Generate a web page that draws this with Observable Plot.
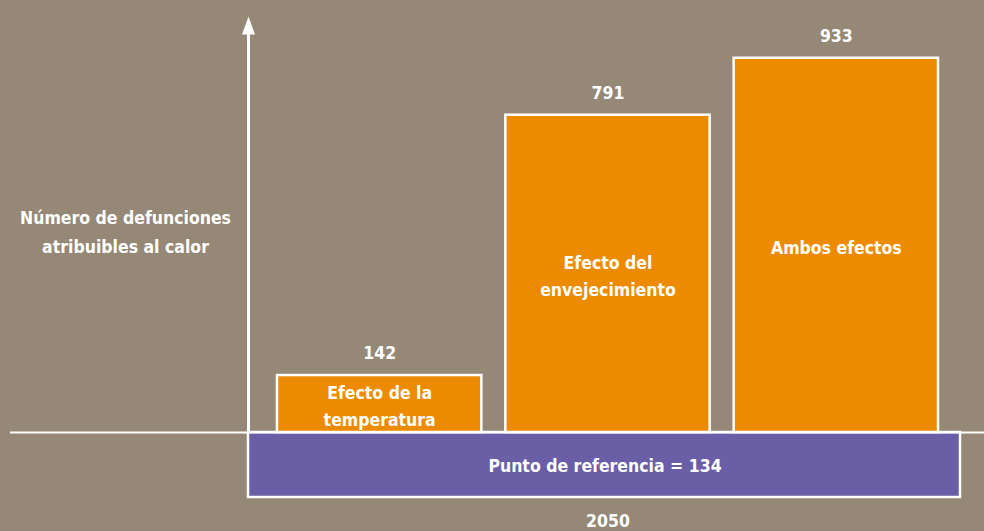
<!DOCTYPE html>
<html>
<head>
<meta charset="utf-8">
<script src="https://cdn.jsdelivr.net/npm/d3@7"></script>
<script src="https://cdn.jsdelivr.net/npm/@observablehq/plot@0.6"></script>
<style>
  html, body { margin: 0; padding: 0; background: #958876; overflow: hidden; }
  #chart { width: 984px; height: 531px; }
  svg { display: block; }
</style>
</head>
<body>
<div id="chart"></div>
<script>
// Data
const categories = ["Efecto de la temperatura", "Efecto del envejecimiento", "Ambos efectos"];
const barLabels = ["Efecto de la\ntemperatura", "Efecto del\nenvejecimiento", "Ambos efectos"];
const values = [142, 791, 933];
const referenceLabel = "Punto de referencia = 134";
const referenceValue = 134;
const yearLabel = "2050";
const yAxisLabel = "Número de defunciones\natribuibles al calor";

const data = categories.map((c, i) => ({category: c, label: barLabels[i], value: values[i], index: i}));

const font = "'DejaVu Sans Condensed', 'Liberation Sans Narrow', sans-serif";
const orange = "#ED8B00";
const purple = "#6A5EA6";
const bg = "#958876";
const yMax = 1077;
const fs = 17.5;

// custom filled arrowhead pointing up
const arrowHead = {
  draw(ctx) {
    ctx.moveTo(0, -18);
    ctx.lineTo(6.5, 0);
    ctx.lineTo(-6.5, 0);
    ctx.closePath();
  }
};

const chart = Plot.plot({
  width: 984,
  height: 531,
  marginLeft: 265,
  marginRight: 34,
  marginTop: 0,
  marginBottom: 99,
  style: {background: bg, fontFamily: font, color: "white", overflow: "visible"},
  x: {domain: [0, categories.length], axis: null},
  y: {domain: [0, yMax], axis: null},
  marks: [
    // reference (baseline) band below the axis
    Plot.rect([referenceValue], {
      x1: 0, x2: categories.length, y1: 0, y2: 0,
      insetLeft: -17, insetRight: -10, insetBottom: -65,
      fill: purple, stroke: "white", strokeWidth: 2.5
    }),
    // orange bars
    Plot.rectY(data, {
      x1: d => d.index, x2: d => d.index + 1, y1: 0, y2: "value",
      insetLeft: 12, insetRight: 12,
      fill: orange, stroke: "white", strokeWidth: 2.5
    }),
    // horizontal baseline
    Plot.ruleY([0], {stroke: "white", strokeWidth: 2, insetLeft: -255, insetRight: -34}),
    // vertical axis with arrow
    Plot.ruleX([0], {dx: -17, insetTop: 32, stroke: "white", strokeWidth: 3}),
    Plot.dot([0], {x: 0, y: yMax, dx: -17, dy: 34, symbol: arrowHead, fill: "white", stroke: "none"}),
    // value labels
    Plot.text(data, {
      x: d => d.index + 0.5, y: "value", text: d => String(d.value), dy: -22,
      fill: "white", fontSize: fs, fontWeight: "bold", fontFamily: font
    }),
    // bar labels
    Plot.text(data, {
      x: d => d.index + 0.5, y: d => d.value / 2, text: "label",
      fill: "white", fontSize: fs, fontWeight: "bold", fontFamily: font, lineHeight: 1.55
    }),
    // reference label
    Plot.text([referenceLabel], {
      x: categories.length / 2, y: 0, text: d => d, dy: 34, dx: -3,
      fill: "white", fontSize: fs, fontWeight: "bold", fontFamily: font
    }),
    // year label
    Plot.text([yearLabel], {
      x: categories.length / 2, y: 0, text: d => d, dy: 89, dx: 0,
      fill: "white", fontSize: fs, fontWeight: "bold", fontFamily: font
    }),
    // y-axis label
    Plot.text([yAxisLabel], {
      x: 0, y: 0, dx: -140, dy: -203, text: d => d,
      fill: "white", fontSize: fs, fontWeight: "bold", fontFamily: font, lineHeight: 1.65
    })
  ]
});

document.getElementById("chart").appendChild(chart);
</script>
</body>
</html>
